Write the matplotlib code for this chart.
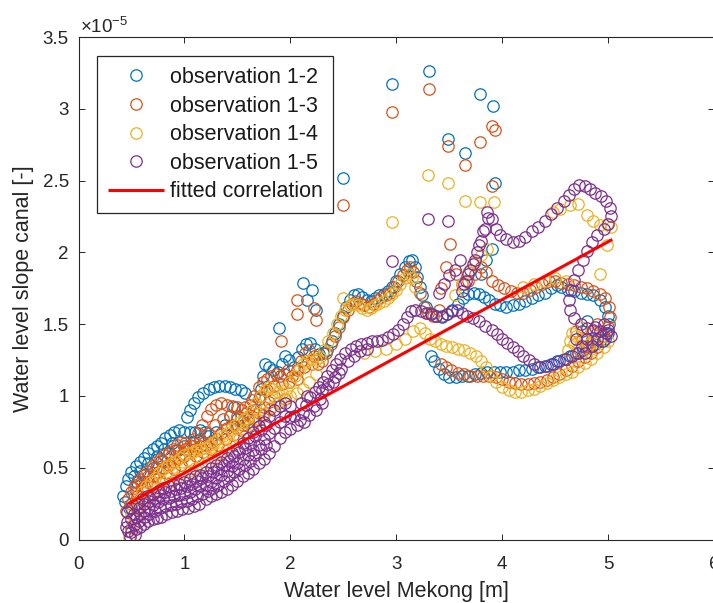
import numpy as np
import matplotlib
matplotlib.use("Agg")
import matplotlib.pyplot as plt
from matplotlib.ticker import FuncFormatter

# Slope values are listed in units of 1e-5
SCALE = 1e-5

obs12 = [
    (0.42, 0.30), (0.45, 0.37), (0.47, 0.42), (0.50, 0.47), (0.54, 0.51), (0.58, 0.54), (0.62, 0.57),
    (0.66, 0.60), (0.70, 0.63), (0.74, 0.65), (0.78, 0.67), (0.82, 0.71), (0.86, 0.73), (0.90, 0.75),
    (0.95, 0.76), (1.00, 0.75), (1.05, 0.75), (1.10, 0.75), (1.15, 0.76), (1.19, 0.75),
    (1.02, 0.85), (1.05, 0.90), (1.09, 0.95), (1.13, 0.99), (1.18, 1.02), (1.23, 1.05), (1.28, 1.06),
    (1.33, 1.07), (1.38, 1.07), (1.43, 1.06), (1.48, 1.05), (1.53, 1.04), (1.57, 1.02),
    (0.48, 0.22), (0.55, 0.40), (0.62, 0.45), (0.70, 0.50), (0.78, 0.55), (0.85, 0.60), (0.92, 0.62),
    (1.00, 0.65), (1.08, 0.68), (1.15, 0.70), (1.22, 0.72), (1.30, 0.75), (1.38, 0.80), (1.43, 0.86),
    (1.47, 0.92), (1.50, 0.84), (1.55, 0.82), (1.60, 0.84), (1.65, 0.90), (1.70, 0.98),
    (0.44, 0.26), (0.52, 0.44), (0.58, 0.48), (0.66, 0.53), (0.74, 0.58), (0.81, 0.63), (0.88, 0.67),
    (1.72, 1.05), (1.74, 1.14), (1.76, 1.22), (1.80, 1.20), (1.84, 1.18), (1.88, 1.17), (1.92, 1.22),
    (1.95, 1.28), (1.99, 1.25), (2.03, 1.20), (2.07, 1.27), (2.11, 1.33), (2.15, 1.36), (2.19, 1.37),
    (2.23, 1.33), (2.27, 1.29), (2.31, 1.30), (2.35, 1.32), (2.39, 1.38), (2.42, 1.44), (2.46, 1.50),
    (2.50, 1.56), (2.53, 1.62), (2.56, 1.67), (2.60, 1.70), (2.64, 1.71), (2.68, 1.69), (2.72, 1.67),
    (2.76, 1.66), (2.80, 1.68), (2.84, 1.70), (2.88, 1.71), (2.92, 1.73), (2.96, 1.76), (3.00, 1.80),
    (3.04, 1.85), (3.08, 1.90), (3.12, 1.94), (3.15, 1.95), (3.18, 1.90), (3.20, 1.83), (3.22, 1.76),
    (3.24, 1.70),
    (1.89, 1.47), (2.12, 1.79), (2.20, 1.74), (2.16, 1.67), (2.24, 1.60), (2.50, 2.52), (2.96, 3.17),
    (3.31, 3.26), (3.49, 2.79), (3.65, 2.69), (3.79, 3.10), (3.91, 3.02), (3.93, 2.48),
    (3.80, 1.85), (3.85, 1.95), (3.90, 2.02),
    (3.28, 1.62), (3.33, 1.58), (3.38, 1.56), (3.43, 1.55), (3.48, 1.57), (3.53, 1.60), (3.58, 1.64),
    (3.63, 1.68), (3.68, 1.71), (3.73, 1.72), (3.78, 1.71), (3.83, 1.69), (3.88, 1.67), (3.93, 1.64),
    (3.98, 1.63), (4.04, 1.62), (4.10, 1.63), (4.16, 1.64), (4.22, 1.66), (4.28, 1.68), (4.34, 1.70),
    (4.40, 1.72), (4.46, 1.75), (4.52, 1.77), (4.56, 1.76), (4.62, 1.74), (4.68, 1.73), (4.74, 1.72),
    (4.80, 1.71), (4.86, 1.70), (4.92, 1.67), (4.97, 1.62), (5.00, 1.56), (5.01, 1.50), (5.00, 1.44),
    (4.97, 1.40), (4.92, 1.38),
    (4.75, 1.45), (4.80, 1.52), (4.85, 1.40),
    (4.88, 1.36), (4.82, 1.34), (4.76, 1.32), (4.70, 1.30), (4.64, 1.28), (4.58, 1.26), (4.52, 1.24),
    (4.46, 1.22), (4.40, 1.21), (4.34, 1.20), (4.28, 1.19), (4.22, 1.18), (4.16, 1.18), (4.10, 1.17),
    (4.04, 1.17), (3.98, 1.17), (3.92, 1.17), (3.86, 1.17), (3.80, 1.16), (3.74, 1.15), (3.68, 1.14),
    (3.62, 1.14), (3.56, 1.13), (3.50, 1.13), (3.45, 1.15), (3.40, 1.19), (3.36, 1.24), (3.33, 1.28),
]

obs13 = [
    (0.45, 0.20), (0.47, 0.28), (0.50, 0.33), (0.53, 0.38), (0.57, 0.42), (0.61, 0.45), (0.65, 0.48),
    (0.69, 0.51), (0.73, 0.54), (0.77, 0.56), (0.81, 0.59), (0.85, 0.61), (0.89, 0.63), (0.93, 0.66),
    (0.97, 0.68), (1.01, 0.67), (1.05, 0.66), (1.09, 0.70), (1.13, 0.74), (1.17, 0.80), (1.21, 0.86),
    (1.25, 0.91), (1.30, 0.94), (1.35, 0.95), (1.40, 0.94), (1.45, 0.93), (1.50, 0.92), (1.54, 0.90),
    (0.50, 0.25), (0.55, 0.30), (0.60, 0.35), (0.65, 0.40), (0.70, 0.44), (0.75, 0.47), (0.80, 0.50),
    (0.85, 0.52), (0.90, 0.54), (0.95, 0.57), (1.00, 0.58), (1.05, 0.60), (1.10, 0.63), (1.15, 0.65),
    (1.20, 0.66), (1.25, 0.68), (1.30, 0.70), (1.35, 0.74), (1.40, 0.78), (1.45, 0.80), (1.50, 0.78),
    (1.55, 0.80), (1.60, 0.82), (1.65, 0.85), (1.70, 0.88), (1.75, 0.92), (1.80, 0.96), (1.85, 1.00),
    (0.55, 0.33), (0.62, 0.37), (0.69, 0.40), (0.76, 0.43), (0.83, 0.46), (0.90, 0.49), (0.97, 0.52),
    (1.04, 0.55), (1.11, 0.58), (1.18, 0.61), (1.25, 0.63), (1.32, 0.66), (1.39, 0.70), (1.46, 0.73),
    (1.53, 0.76), (1.60, 0.79), (1.67, 0.83), (1.74, 0.87), (1.81, 0.91), (1.88, 0.95), (1.95, 0.98),
    (0.52, 0.36), (0.59, 0.40), (0.66, 0.44), (0.73, 0.50), (0.80, 0.55), (0.87, 0.58), (0.94, 0.62),
    (1.01, 0.63), (1.08, 0.65), (1.15, 0.69), (1.22, 0.74), (1.29, 0.80), (1.36, 0.84), (1.43, 0.86),
    (1.50, 0.86), (1.57, 0.92), (1.64, 0.97), (1.71, 1.00), (1.78, 1.04), (1.85, 1.07), (1.92, 1.08),
    (1.99, 1.10), (2.06, 1.12), (2.13, 1.20), (2.20, 1.22),
    (1.58, 0.88), (1.62, 0.94), (1.66, 1.00), (1.70, 1.06), (1.74, 1.10), (1.78, 1.12), (1.82, 1.14),
    (1.86, 1.15), (1.90, 1.14), (1.94, 1.15), (1.98, 1.18), (2.02, 1.14), (2.06, 1.18), (2.10, 1.24),
    (2.14, 1.30), (2.18, 1.32), (2.22, 1.28), (2.26, 1.22), (2.30, 1.24), (2.34, 1.30), (2.38, 1.36),
    (2.42, 1.42), (2.46, 1.48), (2.50, 1.55), (2.54, 1.60), (2.58, 1.64), (2.62, 1.66), (2.66, 1.65),
    (2.70, 1.63), (2.74, 1.62), (2.78, 1.64), (2.82, 1.67), (2.86, 1.69), (2.90, 1.70), (2.94, 1.72),
    (2.98, 1.76), (3.02, 1.80), (3.06, 1.84), (3.10, 1.88), (3.13, 1.90), (3.16, 1.86), (3.19, 1.80),
    (3.22, 1.72),
    (1.91, 1.38), (2.06, 1.67), (2.06, 1.57), (2.22, 1.61), (2.24, 1.53), (2.50, 2.33), (2.96, 2.98),
    (3.31, 3.14), (3.49, 2.74), (3.65, 2.61), (3.79, 2.77), (3.90, 2.88), (3.93, 2.85), (3.90, 2.46),
    (3.26, 1.62), (3.30, 1.58), (3.35, 1.56), (3.40, 1.60),
    (3.42, 1.75), (3.47, 1.90), (3.51, 2.06), (3.56, 1.85), (3.62, 1.78), (3.68, 1.80), (3.74, 1.85),
    (3.80, 1.90), (3.85, 1.86), (3.90, 1.80), (3.96, 1.77), (4.02, 1.75), (4.08, 1.73), (4.14, 1.72),
    (4.20, 1.72), (4.26, 1.74), (4.32, 1.76), (4.38, 1.78), (4.44, 1.80), (4.50, 1.80), (4.56, 1.79),
    (4.62, 1.78), (4.68, 1.77), (4.74, 1.76), (4.80, 1.75), (4.86, 1.73), (4.92, 1.71), (4.97, 1.68),
    (5.01, 1.62), (5.02, 1.55), (5.00, 1.48), (4.96, 1.42),
    (4.75, 1.40), (4.80, 1.35), (4.85, 1.45), (4.90, 1.50), (4.70, 1.45),
    (4.90, 1.34), (4.84, 1.30), (4.78, 1.27), (4.72, 1.24), (4.66, 1.21), (4.60, 1.18), (4.54, 1.15),
    (4.48, 1.13), (4.42, 1.11), (4.36, 1.10), (4.30, 1.09), (4.24, 1.08), (4.18, 1.08), (4.12, 1.09),
    (4.06, 1.10), (4.00, 1.12), (3.94, 1.13), (3.88, 1.14), (3.82, 1.14), (3.76, 1.14), (3.70, 1.14),
    (3.64, 1.15), (3.58, 1.16), (3.52, 1.18), (3.47, 1.20), (3.42, 1.22),
]

obs14 = [
    (0.48, 0.02), (0.50, 0.08), (0.52, 0.15), (0.54, 0.22), (0.57, 0.28), (0.60, 0.33), (0.64, 0.37),
    (0.68, 0.40), (0.72, 0.43), (0.76, 0.46), (0.80, 0.49), (0.84, 0.51), (0.88, 0.53), (0.92, 0.55),
    (0.96, 0.57), (1.00, 0.59), (1.04, 0.60), (1.08, 0.61), (1.12, 0.62), (1.16, 0.63), (1.20, 0.64),
    (1.24, 0.66), (1.28, 0.68), (1.32, 0.70), (1.36, 0.72), (1.40, 0.74), (1.44, 0.77), (1.48, 0.80),
    (1.52, 0.82), (1.56, 0.84), (1.60, 0.86), (1.64, 0.90), (1.68, 0.95), (1.72, 1.00), (1.76, 1.04),
    (1.80, 1.06), (1.84, 1.05), (1.88, 1.03), (1.92, 1.02), (1.96, 1.05), (2.00, 1.10), (2.04, 1.14),
    (2.08, 1.18), (2.12, 1.22), (2.16, 1.24), (2.20, 1.26), (2.24, 1.25), (2.28, 1.27), (2.32, 1.32),
    (2.36, 1.38), (2.40, 1.44), (2.44, 1.50), (2.48, 1.56), (2.52, 1.60), (2.56, 1.63), (2.60, 1.64),
    (2.64, 1.63), (2.68, 1.61), (2.72, 1.60), (2.76, 1.61), (2.80, 1.63), (2.84, 1.65), (2.88, 1.66),
    (2.92, 1.68), (2.96, 1.71), (3.00, 1.74), (3.04, 1.78), (3.08, 1.82), (3.12, 1.85), (3.15, 1.82),
    (3.18, 1.76),
    (0.50, 0.18), (0.56, 0.22), (0.62, 0.26), (0.68, 0.30), (0.74, 0.33), (0.80, 0.36), (0.86, 0.40),
    (0.92, 0.43), (0.98, 0.46), (1.04, 0.48), (1.10, 0.50), (1.16, 0.52), (1.22, 0.54), (1.28, 0.57),
    (1.34, 0.60), (1.40, 0.63), (1.46, 0.66), (1.52, 0.70), (1.58, 0.74), (1.64, 0.78), (1.70, 0.83),
    (1.76, 0.88), (1.82, 0.92), (1.88, 0.95), (1.94, 0.98), (2.00, 1.00), (2.06, 1.02), (2.12, 1.05),
    (2.18, 1.10), (2.24, 1.15),
    (2.50, 1.68), (2.96, 2.21), (3.30, 2.54), (3.49, 2.48), (3.65, 2.36), (3.79, 2.35), (3.92, 2.35),
    (3.55, 1.70), (3.62, 1.78), (3.68, 1.86), (3.74, 1.93), (3.80, 1.98), (3.86, 2.02),
    (2.70, 1.30), (2.80, 1.31), (2.90, 1.33), (3.00, 1.36), (3.08, 1.40), (3.16, 1.45), (3.22, 1.47),
    (3.27, 1.44), (3.32, 1.40), (3.37, 1.38), (3.42, 1.36), (3.47, 1.35), (3.53, 1.34), (3.58, 1.33),
    (3.64, 1.32), (3.70, 1.30), (3.75, 1.28), (3.80, 1.24), (3.85, 1.20), (3.89, 1.14), (3.94, 1.10),
    (4.00, 1.06), (4.06, 1.04), (4.12, 1.03), (4.18, 1.03), (4.24, 1.04), (4.30, 1.05), (4.36, 1.07),
    (4.42, 1.09), (4.48, 1.11), (4.54, 1.13), (4.60, 1.15), (4.66, 1.17), (4.72, 1.20), (4.78, 1.23),
    (4.84, 1.26), (4.90, 1.30), (4.96, 1.34), (5.00, 1.38),
    (4.62, 1.32), (4.64, 1.38), (4.66, 1.44), (4.68, 1.36), (4.70, 1.42), (4.72, 1.33), (4.74, 1.48),
    (4.78, 1.40), (4.82, 1.36), (4.86, 1.44),
    (4.20, 1.76), (4.30, 1.78), (4.40, 1.80), (4.50, 1.82), (4.60, 1.80),
    (4.48, 2.28), (4.55, 2.30), (4.64, 2.33), (4.72, 2.34), (4.80, 2.26), (4.86, 2.22), (4.92, 2.19),
    (4.99, 2.20), (5.03, 2.18), (4.99, 2.05), (4.92, 1.85),
]

obs15 = [
    (0.47, 0.06), (0.50, 0.05), (0.54, 0.07), (0.58, 0.09), (0.62, 0.11), (0.66, 0.13), (0.70, 0.14),
    (0.74, 0.15), (0.78, 0.16), (0.83, 0.18), (0.88, 0.19), (0.93, 0.20), (0.98, 0.21), (1.03, 0.22),
    (1.09, 0.23), (1.14, 0.25), (1.20, 0.28), (1.25, 0.30), (1.30, 0.32), (1.35, 0.33), (1.40, 0.35),
    (1.45, 0.38), (1.50, 0.41), (1.55, 0.44), (1.60, 0.46), (1.65, 0.49), (1.70, 0.53), (1.75, 0.56),
    (1.80, 0.60), (1.85, 0.65), (1.90, 0.71), (1.95, 0.75), (2.00, 0.77),
    (0.49, 0.02), (0.53, 0.03), (0.45, 0.09),
    (0.52, 0.10), (0.57, 0.13), (0.62, 0.16), (0.67, 0.18), (0.72, 0.20), (0.77, 0.22), (0.82, 0.23),
    (0.87, 0.24), (0.92, 0.25), (0.97, 0.26), (1.02, 0.27), (1.07, 0.28), (1.12, 0.30), (1.17, 0.32),
    (1.22, 0.34), (1.27, 0.36), (1.32, 0.38), (1.37, 0.41), (1.42, 0.44), (1.47, 0.47), (1.52, 0.49),
    (1.57, 0.52), (1.62, 0.55), (1.67, 0.59), (1.72, 0.63), (1.77, 0.66),
    (0.46, 0.12), (0.50, 0.14), (0.54, 0.16), (0.58, 0.18), (0.62, 0.20), (0.66, 0.22), (0.70, 0.24),
    (0.75, 0.26), (0.80, 0.28), (0.85, 0.29), (0.90, 0.30), (0.95, 0.31), (1.00, 0.32), (1.05, 0.33),
    (1.10, 0.35), (1.15, 0.37), (1.20, 0.38), (1.25, 0.40), (1.30, 0.43), (1.35, 0.45), (1.40, 0.48),
    (1.45, 0.51), (1.50, 0.53), (1.55, 0.56), (1.60, 0.59), (1.65, 0.62), (1.70, 0.66), (1.75, 0.70),
    (1.80, 0.74), (1.85, 0.78),
    (0.52, 0.18), (0.57, 0.22), (0.62, 0.25), (0.67, 0.27), (0.72, 0.29), (0.77, 0.31), (0.82, 0.33),
    (0.87, 0.34), (0.92, 0.35), (0.97, 0.36), (1.02, 0.37), (1.07, 0.39), (1.12, 0.41), (1.17, 0.43),
    (1.22, 0.44), (1.27, 0.47), (1.32, 0.49), (1.37, 0.52), (1.42, 0.55), (1.47, 0.58), (1.52, 0.61),
    (1.57, 0.64), (1.62, 0.67), (1.67, 0.72), (1.72, 0.76), (1.77, 0.80),
    (0.46, 0.19), (0.50, 0.22), (0.55, 0.25), (0.60, 0.28), (0.65, 0.30), (0.70, 0.32), (0.75, 0.34),
    (0.80, 0.36), (0.85, 0.37), (0.90, 0.38), (0.95, 0.39), (1.00, 0.40), (1.05, 0.42), (1.10, 0.44),
    (1.15, 0.45), (1.20, 0.47), (1.25, 0.50), (1.30, 0.52), (1.35, 0.54), (1.40, 0.57), (1.45, 0.60),
    (1.50, 0.63), (1.55, 0.67), (1.60, 0.71), (1.65, 0.75), (1.70, 0.79), (1.75, 0.82), (1.80, 0.86),
    (1.85, 0.90), (1.90, 0.93), (1.95, 0.95), (2.00, 0.93), (2.03, 0.86), (2.06, 0.80), (2.09, 0.83),
    (2.12, 0.88), (2.15, 0.94), (2.19, 0.99), (2.23, 1.03), (2.27, 1.06), (2.31, 1.10), (2.35, 1.14),
    (2.39, 1.18), (2.43, 1.22), (2.47, 1.26), (2.52, 1.30), (2.57, 1.33), (2.62, 1.35), (2.67, 1.36),
    (2.72, 1.37), (2.77, 1.38), (2.82, 1.38), (2.87, 1.39), (2.92, 1.41), (2.97, 1.43), (3.02, 1.46),
    (3.06, 1.50), (3.10, 1.55), (3.14, 1.59), (3.18, 1.60), (3.23, 1.59), (3.28, 1.58), (3.33, 1.57),
    (3.38, 1.56), (3.43, 1.56), (3.48, 1.57), (3.53, 1.59), (3.57, 1.60),
    (1.90, 0.82), (1.95, 0.86), (2.00, 0.85), (2.13, 0.82), (2.18, 0.87), (2.24, 0.90), (2.30, 0.95),
    (2.10, 0.95), (2.16, 1.00), (2.22, 0.93), (2.28, 0.98), (2.34, 1.05), (2.40, 1.10), (2.46, 1.16),
    (2.30, 1.04), (2.36, 1.08), (2.42, 1.13), (2.48, 1.19), (2.54, 1.24), (2.60, 1.28), (2.66, 1.31),
    (2.72, 1.33),
    (3.62, 1.58), (3.67, 1.56), (3.72, 1.54), (3.78, 1.52), (3.84, 1.49), (3.90, 1.46), (3.95, 1.43),
    (4.00, 1.40), (4.05, 1.37), (4.10, 1.34), (4.15, 1.31), (4.20, 1.28), (4.25, 1.25), (4.30, 1.22),
    (4.36, 1.20), (4.42, 1.21), (4.48, 1.22), (4.54, 1.24), (4.60, 1.26), (4.66, 1.28), (4.72, 1.30),
    (3.40, 1.72), (3.45, 1.78), (3.50, 1.84), (3.55, 1.88), (3.60, 1.95),
    (3.62, 1.73), (3.66, 1.80), (3.70, 1.88), (3.74, 1.95), (3.78, 2.05), (3.82, 2.15), (3.86, 2.28),
    (3.64, 1.78), (3.68, 1.85), (3.72, 1.92), (3.76, 2.00), (3.80, 2.08), (3.84, 2.16), (3.87, 2.24),
    (3.90, 2.23), (3.94, 2.16), (3.98, 2.12), (4.04, 2.09), (4.10, 2.07), (4.16, 2.08), (4.22, 2.11),
    (4.28, 2.15), (4.34, 2.18), (4.40, 2.22), (4.46, 2.27), (4.52, 2.31), (4.58, 2.36), (4.63, 2.40),
    (4.68, 2.44), (4.73, 2.47), (4.78, 2.46), (4.83, 2.44), (4.88, 2.41), (4.93, 2.39), (4.98, 2.36),
    (5.02, 2.31), (5.03, 2.25), (5.00, 2.20), (4.96, 2.16), (4.90, 2.12), (4.85, 2.07), (4.80, 2.01),
    (4.76, 1.95), (4.72, 1.88), (4.68, 1.81), (4.65, 1.74), (4.63, 1.67), (4.64, 1.60), (4.68, 1.54),
    (4.74, 1.50), (4.80, 1.47), (4.86, 1.46), (4.92, 1.45), (4.98, 1.44), (5.03, 1.42),
    (4.70, 1.40), (4.75, 1.35), (4.80, 1.40), (4.85, 1.35), (4.90, 1.40), (4.95, 1.38), (4.78, 1.30),
    (4.88, 1.48), (4.96, 1.50), (5.00, 1.46),
    (2.96, 1.94), (3.30, 2.23), (3.49, 2.22),
]

# Fitted linear relation between Mekong level and canal slope (end points)
fit_x = [0.47, 5.04]
fit_y = [0.25, 2.09]

series_labels = ['observation 1-2', 'observation 1-3', 'observation 1-4', 'observation 1-5']
series_colors = [(0.0, 0.447, 0.741), (0.850, 0.325, 0.098),
                 (0.929, 0.694, 0.125), (0.494, 0.184, 0.556)]

x_ticks = [0, 1, 2, 3, 4, 5, 6]
y_ticks = [0, 0.5, 1, 1.5, 2, 2.5, 3, 3.5]

plt.rcParams['font.family'] = ['Liberation Sans', 'DejaVu Sans']
plt.rcParams['mathtext.fontset'] = 'custom'
plt.rcParams['mathtext.rm'] = 'Liberation Sans'
plt.rcParams['mathtext.it'] = 'Liberation Sans:italic'

TEXT = (0.15, 0.15, 0.15)

fig = plt.figure(figsize=(7.13, 6.03), dpi=100)
ax = fig.add_axes([78.5 / 713, 63.5 / 603, 635.5 / 713, 502.5 / 603])

for data, label, color in zip([obs12, obs13, obs14, obs15], series_labels, series_colors):
    arr = np.array(data)
    ax.plot(arr[:, 0], arr[:, 1] * SCALE, linestyle='none', marker='o',
            markersize=8.2, markerfacecolor='none', markeredgecolor=color,
            markeredgewidth=0.9, label=label)

ax.plot(fit_x, np.array(fit_y) * SCALE, color=(1, 0, 0), linewidth=2.2,
        solid_capstyle='butt', label='fitted correlation')

ax.set_xlim(0, 6)
ax.set_ylim(0, 3.5 * SCALE)
ax.set_xticks(x_ticks)
ax.set_yticks([v * SCALE for v in y_ticks])
ax.yaxis.set_major_formatter(FuncFormatter(lambda v, _: f'{v / SCALE:g}'))
ax.tick_params(direction='in', top=True, right=True, length=4, width=0.7,
               colors=TEXT, labelsize=13.5)
ax.tick_params(axis='x', pad=12)
ax.tick_params(axis='y', pad=7)
for sp in ax.spines.values():
    sp.set_color(TEXT)
    sp.set_linewidth(0.8)

ax.text(0.003, 1.008, r'$\times 10^{-5}$', transform=ax.transAxes,
        fontsize=13.5, color=TEXT, ha='left', va='baseline')

ax.set_xlabel('Water level Mekong [m]', fontsize=15.5, color=TEXT, labelpad=6)
ax.set_ylabel('Water level slope canal [-]', fontsize=15.5, color=TEXT, labelpad=6)

leg = ax.legend(loc='upper left', bbox_to_anchor=(0.029, 0.962), borderaxespad=0,
                fontsize=15.5, frameon=True, fancybox=False, framealpha=1,
                edgecolor=TEXT, handlelength=2.6, handletextpad=0.28,
                borderpad=0.5, labelspacing=0.355, numpoints=1)
leg.get_frame().set_linewidth(0.9)
for t in leg.get_texts():
    t.set_color((0.1, 0.1, 0.1))

fig.savefig('out.png', dpi=100)
